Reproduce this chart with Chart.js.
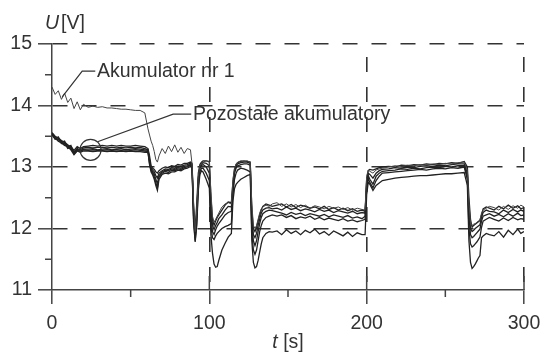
<!DOCTYPE html>
<html>
<head>
<meta charset="utf-8">
<script src="https://cdn.jsdelivr.net/npm/chart.js@4/dist/chart.umd.min.js"></script>
<style>
  body { margin:0; background:#fff; }
  canvas { display:block; }
</style>
</head>
<body>
<canvas id="c" width="542" height="354"></canvas>
<script>
// time axis [s], shared by all curves
const t = [
  0,2,4,6,8,10,12,14,16,18,20,23,26,29,32,35,38,41,44,47,50,53,56,59,
  61,62,63,64,65,66,67,68,70,72,74,76,78,80,82,84,86,88,
  89,90,91,92,93,94,95,96,98,100,
  101,102,103,104,105,106,108,110,112,114,
  115,116,117,118,120,122,124,126,
  127,128,129,130,131,132,133,134,136,138,140,
  143,146,149,152,155,158,161,164,167,170,173,176,179,182,185,188,191,194,197,
  199,200,201,202,204,206,208,210,
  214,218,222,226,230,234,238,242,246,250,254,258,262,
  264,265,266,267,268,269,270,271,272,273,274,276,278,
  281,284,287,290,293,296,298,300
];

// Akumulator nr 1 [V]
const acc1 = [
  14.30,14.18,14.24,14.10,14.20,14.05,14.12,13.95,14.06,13.93,14.02,13.97,13.99,13.97,13.98,13.96,13.96,13.95,13.94,13.94,13.93,13.92,13.92,13.88,
  13.62,13.52,13.42,13.35,13.25,13.12,13.08,13.18,13.30,13.22,13.34,13.25,13.36,13.24,13.32,13.22,13.30,13.28,
  13.05,12.40,11.95,12.30,12.85,13.02,13.06,13.08,13.10,13.08,
  12.60,12.20,12.10,12.15,12.20,12.25,12.35,12.40,12.42,12.40,
  12.80,12.98,13.05,13.08,13.10,13.09,13.10,13.08,
  12.40,12.05,12.00,12.05,12.15,12.25,12.32,12.35,12.38,12.36,12.40,
  12.42,12.36,12.40,12.35,12.39,12.34,12.38,12.33,12.37,12.35,12.32,12.36,12.33,12.35,12.31,12.34,12.30,12.33,12.31,
  12.30,12.85,12.95,12.93,12.90,12.95,12.97,12.98,
  13.00,13.02,13.01,13.03,13.02,13.04,13.03,13.05,13.04,13.06,13.05,13.07,13.08,
  12.95,12.40,12.10,12.05,12.07,12.08,12.10,12.12,12.14,12.25,12.30,12.33,12.36,
  12.34,12.30,12.36,12.31,12.37,12.33,12.38,12.35
];

// Pozostałe akumulatory [V]
const oth1 = [
  13.56,13.50,13.47,13.43,13.40,13.36,13.33,13.27,13.33,13.30,13.33,13.34,13.35,13.34,13.35,13.34,13.35,13.34,13.35,13.34,13.34,13.35,13.34,13.33,
  13.30,13.18,13.02,12.98,12.96,12.92,12.90,12.94,12.98,13.00,12.99,13.02,13.01,13.04,13.03,13.06,13.06,13.08,
  13.06,12.35,11.98,12.40,12.90,13.04,13.08,13.10,13.10,13.09,
  12.50,12.15,12.05,12.12,12.18,12.22,12.30,12.38,12.43,12.42,
  12.75,12.96,13.04,13.07,13.09,13.10,13.09,13.08,
  12.30,12.00,11.95,12.02,12.12,12.22,12.30,12.36,12.40,12.38,12.36,
  12.38,12.40,12.35,12.39,12.34,12.38,12.36,12.33,12.35,12.32,12.36,12.31,12.34,12.30,12.33,12.29,12.32,12.28,12.30,
  12.28,12.80,12.94,12.96,12.95,12.97,12.99,13.00,
  13.01,13.00,13.03,13.02,13.04,13.03,13.05,13.04,13.06,13.05,13.07,13.06,13.09,
  13.00,12.50,12.15,12.02,12.05,12.07,12.09,12.11,12.13,12.22,12.32,12.35,12.33,
  12.30,12.36,12.32,12.38,12.33,12.37,12.32,12.34
];
const oth2 = [
  13.54,13.46,13.49,13.40,13.42,13.32,13.35,13.24,13.30,13.28,13.31,13.32,13.31,13.32,13.32,13.31,13.32,13.31,13.32,13.31,13.32,13.31,13.32,13.30,
  13.28,13.12,12.98,12.95,12.92,12.86,12.82,12.90,12.94,12.97,12.96,12.99,12.98,13.01,13.01,13.03,13.04,13.06,
  13.04,12.30,11.92,12.25,12.82,13.00,13.05,13.07,13.06,13.02,
  12.35,12.05,11.98,12.05,12.10,12.16,12.22,12.30,12.36,12.35,
  12.70,12.92,13.02,13.05,13.07,13.08,13.08,13.06,
  12.20,11.90,11.85,11.92,12.05,12.15,12.25,12.30,12.33,12.34,12.32,
  12.33,12.30,12.35,12.31,12.33,12.29,12.32,12.30,12.27,12.31,12.28,12.30,12.26,12.29,12.27,12.25,12.28,12.24,12.26,
  12.25,12.75,12.90,12.88,12.82,12.90,12.94,12.96,
  12.97,12.99,12.98,13.00,12.99,13.01,13.02,13.01,13.03,13.02,13.04,13.05,13.05,
  12.90,12.30,12.00,11.95,11.97,12.00,12.02,12.04,12.06,12.18,12.26,12.30,12.28,
  12.27,12.24,12.30,12.26,12.31,12.27,12.30,12.28
];
const oth3 = [
  13.55,13.48,13.44,13.42,13.37,13.34,13.30,13.22,13.29,13.26,13.29,13.29,13.30,13.28,13.29,13.30,13.28,13.29,13.30,13.28,13.29,13.30,13.29,13.28,
  13.27,13.10,12.96,12.92,12.88,12.80,12.72,12.86,12.92,12.95,12.94,12.97,12.96,12.99,12.98,13.01,13.02,13.04,
  13.02,12.20,11.85,12.20,12.78,12.98,13.02,13.04,13.00,12.90,
  12.20,11.95,11.90,11.98,12.04,12.08,12.15,12.22,12.26,12.28,
  12.65,12.90,12.98,13.02,13.04,13.05,13.05,13.03,
  12.10,11.80,11.72,11.80,11.95,12.08,12.18,12.24,12.28,12.30,12.29,
  12.27,12.25,12.22,12.26,12.23,12.25,12.21,12.24,12.22,12.20,12.23,12.19,12.22,12.20,12.18,12.21,12.17,12.19,12.16,
  12.20,12.70,12.86,12.80,12.72,12.85,12.90,12.93,
  12.94,12.95,12.97,12.96,12.98,12.97,12.99,13.00,12.99,13.01,13.00,13.02,13.02,
  12.85,12.20,11.90,11.85,11.87,11.90,11.93,11.96,11.99,12.12,12.20,12.22,12.24,
  12.20,12.23,12.19,12.24,12.20,12.25,12.21,12.22
];
const oth4 = [
  13.52,13.45,13.46,13.38,13.39,13.30,13.32,13.21,13.27,13.25,13.28,13.27,13.28,13.27,13.27,13.28,13.27,13.28,13.27,13.28,13.27,13.28,13.27,13.26,
  13.25,13.06,12.94,12.90,12.84,12.74,12.66,12.84,12.90,12.93,12.91,12.95,12.94,12.97,12.96,12.99,13.00,13.03,
  13.00,12.15,11.80,12.10,12.70,12.92,12.98,12.98,12.90,12.78,
  12.05,11.85,11.82,11.88,11.92,11.95,12.00,12.03,12.05,12.08,
  12.55,12.80,12.90,12.95,12.98,12.97,12.95,12.92,
  11.95,11.65,11.58,11.65,11.80,11.95,12.05,12.12,12.18,12.20,12.22,
  12.20,12.22,12.18,12.21,12.16,12.19,12.17,12.20,12.15,12.18,12.14,12.17,12.15,12.13,12.16,12.12,12.14,12.11,12.13,
  12.15,12.65,12.82,12.75,12.66,12.78,12.85,12.90,
  12.91,12.92,12.93,12.94,12.95,12.96,12.95,12.97,12.98,12.97,12.99,12.98,13.00,
  12.80,12.00,11.75,11.70,11.72,11.75,11.78,11.82,11.86,12.02,12.12,12.15,12.18,
  12.15,12.12,12.17,12.13,12.18,12.14,12.16,12.15
];
const oth5 = [
  13.53,13.47,13.42,13.39,13.35,13.33,13.28,13.20,13.26,13.24,13.26,13.26,13.25,13.26,13.26,13.25,13.26,13.25,13.26,13.25,13.26,13.25,13.25,13.24,
  13.24,13.04,12.92,12.87,12.80,12.70,12.62,12.80,12.88,12.90,12.89,12.92,12.92,12.95,12.94,12.97,12.98,13.01,
  12.98,12.10,11.78,12.05,12.62,12.88,12.94,12.92,12.80,12.66,
  11.90,11.60,11.42,11.37,11.38,11.48,11.65,11.76,11.86,11.92,
  12.45,12.65,12.72,12.75,12.80,12.83,12.86,12.88,
  11.80,11.45,11.36,11.38,11.48,11.62,11.75,11.85,11.92,11.95,11.94,
  11.96,11.90,11.98,11.92,11.96,11.90,11.97,11.93,11.99,11.91,11.95,11.89,11.96,11.92,11.88,11.94,11.87,11.93,11.90,
  11.90,12.55,12.75,12.72,12.62,12.70,12.74,12.78,
  12.80,12.82,12.83,12.84,12.85,12.86,12.86,12.87,12.88,12.89,12.89,12.90,12.91,
  12.70,11.80,11.45,11.35,11.38,11.42,11.47,11.52,11.56,11.85,11.88,11.92,11.90,
  11.88,11.95,11.86,11.97,11.90,11.99,11.92,11.95
];

const xTicks = [0, 100, 200, 300];
const yTicks = [11, 12, 13, 14, 15];
const xMinor = [50, 150, 250];
const yMinor = [11.5, 12.5, 13.5, 14.5];

const FONT = "'Liberation Sans', Arial, sans-serif";
const INK = '#333';

function pts(ys) { return t.map((v, i) => ({ x: v, y: ys[i] })); }

// axis titles, minor ticks and the two labels with leader lines
const extras = {
  id: 'extras',
  afterDraw(chart) {
    const { ctx, chartArea: a, scales: { x, y } } = chart;
    ctx.save();
    ctx.strokeStyle = '#444';
    ctx.lineWidth = 1.5;
    ctx.beginPath();
    yMinor.forEach(v => { const py = y.getPixelForValue(v); ctx.moveTo(a.left - 7, py); ctx.lineTo(a.left, py); });
    xMinor.forEach(v => { const px = x.getPixelForValue(v); ctx.moveTo(px, a.bottom); ctx.lineTo(px, a.bottom + 7); });
    xTicks.slice(1).forEach(v => { const px = x.getPixelForValue(v); ctx.moveTo(px, a.bottom - 14); ctx.lineTo(px, a.bottom); });
    ctx.stroke();

    // axis titles
    ctx.fillStyle = INK;
    ctx.textBaseline = 'middle';
    ctx.textAlign = 'left';
    ctx.font = 'italic 19.5px ' + FONT;
    ctx.fillText('U', a.left - 7, 24);
    let w = ctx.measureText('U').width;
    ctx.font = '19.5px ' + FONT;
    ctx.fillText('[V]', a.left - 7 + w + 2, 24);

    const cx = (a.left + a.right) / 2;
    ctx.font = 'italic 19.5px ' + FONT;
    const wt = ctx.measureText('t ').width;
    ctx.font = '19.5px ' + FONT;
    const ws = ctx.measureText('[s]').width;
    let sx = cx - (wt + ws) / 2;
    ctx.font = 'italic 19.5px ' + FONT;
    ctx.fillText('t', sx, 343);
    ctx.font = '19.5px ' + FONT;
    ctx.fillText('[s]', sx + wt, 343);

    // Akumulator nr 1
    ctx.strokeStyle = INK;
    ctx.lineWidth = 1.2;
    ctx.beginPath();
    ctx.moveTo(x.getPixelForValue(6.5), y.getPixelForValue(14.14));
    ctx.lineTo(x.getPixelForValue(19.2), y.getPixelForValue(14.56));
    ctx.lineTo(x.getPixelForValue(27.5), y.getPixelForValue(14.56));
    ctx.stroke();
    ctx.fillText('Akumulator nr 1', x.getPixelForValue(28.6), y.getPixelForValue(14.55));

    // Pozostałe akumulatory
    const ccx = x.getPixelForValue(24.5), ccy = y.getPixelForValue(13.28);
    ctx.beginPath();
    ctx.arc(ccx, ccy, 10.5, 0, Math.PI * 2);
    ctx.stroke();
    ctx.beginPath();
    ctx.moveTo(ccx + 7, ccy - 8);
    ctx.lineTo(x.getPixelForValue(77), y.getPixelForValue(13.86));
    ctx.lineTo(x.getPixelForValue(88.5), y.getPixelForValue(13.86));
    ctx.stroke();
    ctx.fillText('Pozostałe akumulatory', x.getPixelForValue(89.6), y.getPixelForValue(13.85));
    ctx.restore();
  }
};

const lineStyle = { borderWidth: 1.3, pointRadius: 0, tension: 0, fill: false };

new Chart(document.getElementById('c'), {
  type: 'line',
  data: {
    datasets: [
      Object.assign({ label: 'Akumulator nr 1', data: pts(acc1), borderColor: '#444', borderWidth: 1 }, { pointRadius: 0, tension: 0, fill: false }),
      Object.assign({ label: 'Pozostałe 1', data: pts(oth1), borderColor: '#222' }, lineStyle),
      Object.assign({ label: 'Pozostałe 2', data: pts(oth2), borderColor: '#222' }, lineStyle),
      Object.assign({ label: 'Pozostałe 3', data: pts(oth3), borderColor: '#222' }, lineStyle),
      Object.assign({ label: 'Pozostałe 4', data: pts(oth4), borderColor: '#222' }, lineStyle),
      Object.assign({ label: 'Pozostałe 5', data: pts(oth5), borderColor: '#222' }, lineStyle)
    ]
  },
  options: {
    responsive: false,
    animation: false,
    devicePixelRatio: 1,
    layout: { padding: { top: 44, right: 18, left: 0, bottom: 0 } },
    plugins: { legend: { display: false }, tooltip: { enabled: false } },
    scales: {
      x: {
        type: 'linear', min: 0, max: 300,
        afterFit: s => { s.height = 64; s.paddingLeft = 0; s.paddingRight = 0; },
        afterBuildTicks: s => { s.ticks = xTicks.map(v => ({ value: v })); },
        ticks: { autoSkip: false, maxRotation: 0, padding: 8, color: INK, font: { family: FONT, size: 19.5 } },
        grid: {
          color: c => (c.tick && c.tick.value === 0) ? 'rgba(0,0,0,0)' : '#333',
          lineWidth: 1.6, tickLength: 14, tickColor: '#444', tickWidth: 1.5
        },
        border: { display: true, color: '#444', width: 1.5, dash: [15, 15], dashOffset: 17 }
      },
      y: {
        min: 11, max: 15,
        afterFit: s => { s.width = 52; s.paddingTop = 0; s.paddingBottom = 0; },
        afterBuildTicks: s => { s.ticks = yTicks.map(v => ({ value: v })); },
        ticks: { padding: 6, color: INK, font: { family: FONT, size: 19.5 } },
        grid: {
          color: c => (c.tick && c.tick.value === 11) ? 'rgba(0,0,0,0)' : '#333',
          lineWidth: 1.6, tickLength: 14, tickColor: '#444', tickWidth: 1.5
        },
        border: { display: true, color: '#444', width: 1.5, dash: [15, 14], dashOffset: 0 }
      }
    }
  },
  plugins: [extras]
});
</script>
</body>
</html>
